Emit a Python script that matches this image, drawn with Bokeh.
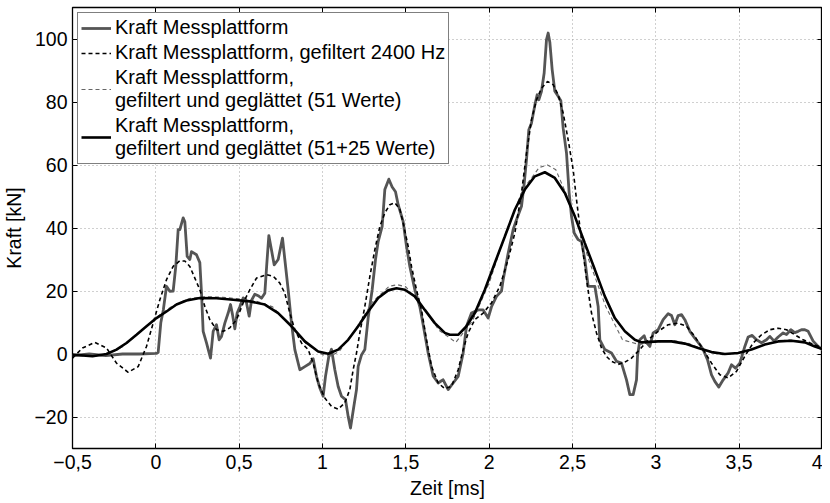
from bokeh.plotting import figure
from bokeh.models import (Range1d, LinearAxis, FixedTicker, CustomJSTickFormatter,
                          Legend, LegendItem)
from bokeh.embed import file_html
from bokeh.resources import INLINE

# ---------------- data ----------------
t_raw = [-0.5, -0.4, -0.3, -0.2, -0.1, 0.0, 0.014, 0.03, 0.045, 0.064, 0.084, 0.104, 0.12,
         0.134, 0.144, 0.164, 0.174, 0.188, 0.204, 0.214, 0.244, 0.264, 0.274, 0.284, 0.304,
         0.328, 0.344, 0.364, 0.38, 0.394, 0.414, 0.434, 0.448, 0.46, 0.474, 0.488, 0.504,
         0.524, 0.54, 0.56, 0.574, 0.594, 0.614, 0.634, 0.654, 0.665, 0.678, 0.694, 0.71,
         0.734, 0.76, 0.774, 0.794, 0.814, 0.834, 0.864, 0.894, 0.924, 0.944, 0.964, 0.984,
         1.004, 1.018, 1.038, 1.054, 1.074, 1.094, 1.114, 1.138, 1.154, 1.168, 1.184, 1.204,
         1.214, 1.234, 1.254, 1.274, 1.298, 1.318, 1.334, 1.358, 1.374, 1.398, 1.418, 1.438,
         1.454, 1.484, 1.504, 1.524, 1.554, 1.584, 1.604, 1.634, 1.664, 1.694, 1.714, 1.724,
         1.754, 1.784, 1.814, 1.844, 1.864, 1.894, 1.934, 1.964, 1.994, 2.014, 2.044, 2.074,
         2.084, 2.114, 2.144, 2.164, 2.194, 2.21, 2.224, 2.238, 2.254, 2.274, 2.288, 2.298,
         2.314, 2.33, 2.344, 2.354, 2.364, 2.378, 2.394, 2.414, 2.43, 2.444, 2.464, 2.48,
         2.494, 2.51, 2.534, 2.554, 2.574, 2.594, 2.634, 2.654, 2.664, 2.694, 2.734, 2.764,
         2.794, 2.824, 2.844, 2.864, 2.884, 2.89, 2.904, 2.93, 2.944, 2.964, 2.984, 3.014,
         3.044, 3.074, 3.094, 3.114, 3.134, 3.154, 3.174, 3.204, 3.234, 3.264, 3.284, 3.31,
         3.334, 3.354, 3.378, 3.404, 3.434, 3.454, 3.478, 3.504, 3.534, 3.554, 3.578, 3.604,
         3.634, 3.664, 3.684, 3.71, 3.734, 3.764, 3.784, 3.81, 3.834, 3.854, 3.874, 3.894,
         3.914, 3.944, 3.974, 4.0]
f_raw = [-0.5, 0.0, -0.5, 0.0, 0.0, 0.2, 0.5, 10.0, 14.0, 21.5, 19.9, 20.0, 28.0,
         39.5, 39.5, 43.2, 42.0, 31.0, 30.0, 32.5, 31.5, 29.0, 19.4, 7.2, 3.5,
         -1.3, 7.2, 9.3, 4.5, 5.6, 9.8, 13.0, 15.7, 12.5, 8.0, 13.0, 15.0,
         17.8, 17.3, 12.0, 17.0, 19.0, 18.5, 17.7, 19.3, 28.0, 37.6, 33.0, 28.3,
         30.0, 36.8, 30.0, 20.4, 9.8, 1.4, -5.0, -4.0, -3.0, -1.5, -7.1, -10.8,
         -13.4, -7.1, -0.7, 1.5, -5.0, -10.3, -13.4, -14.5, -19.8, -23.5, -18.0, -11.3,
         -3.9, -0.3, 1.4, 11.5, 20.4, 30.0, 35.7, 40.5, 52.2, 55.5, 53.0, 51.5,
         47.4, 42.0, 34.2, 27.8, 20.4, 15.0, 9.3, 0.3, -7.0, -9.2, -8.5, -8.2,
         -11.3, -9.2, -7.1, 0.3, 8.8, 13.0, 14.0, 14.0, 11.4, 15.0, 18.3, 20.0,
         23.6, 32.0, 39.5, 42.6, 46.9, 54.0, 61.7, 71.2, 73.3, 79.0, 82.3, 80.7,
         83.4, 89.2, 99.8, 101.9, 99.0, 90.3, 83.4, 81.8, 80.4, 71.7, 63.8, 51.1,
         43.7, 38.4, 36.3, 35.7, 30.0, 21.5, 21.5, 15.1, 4.5, 1.4, 0.3, -2.3,
         -2.9, -8.2, -12.9, -12.9, -8.2, -0.7, 4.5, 5.8, 3.6, 2.4, 6.7, 7.7,
         10.9, 12.8, 12.2, 9.3, 12.2, 12.5, 10.9, 7.2, 5.0, 3.0, 1.4, -1.8,
         -6.6, -8.7, -10.5, -8.2, -6.0, -3.4, -4.5, -2.9, 2.4, 5.4, 5.9, 4.5,
         3.6, 4.5, 5.6, 4.1, 5.4, 6.7, 6.2, 7.7, 6.8, 7.2, 7.7, 7.7,
         7.2, 4.1, 2.4, 1.4]

t_filt = [-0.5, -0.44, -0.366, -0.296, -0.236, -0.166, -0.106, -0.056, -0.016, 0.024,
          0.064, 0.104, 0.144, 0.174, 0.204, 0.234, 0.264, 0.294, 0.324, 0.364, 0.404,
          0.444, 0.484, 0.524, 0.564, 0.604, 0.664, 0.704, 0.744, 0.774, 0.804, 0.834,
          0.874, 0.914, 0.944, 0.974, 1.014, 1.054, 1.094, 1.134, 1.164, 1.184, 1.204,
          1.224, 1.254, 1.284, 1.314, 1.344, 1.374, 1.404, 1.434, 1.464, 1.484, 1.514,
          1.534, 1.564, 1.594, 1.624, 1.654, 1.694, 1.734, 1.774, 1.814, 1.844, 1.874,
          1.914, 1.964, 2.014, 2.064, 2.114, 2.154, 2.194, 2.224, 2.254, 2.284, 2.314,
          2.35, 2.384, 2.414, 2.444, 2.474, 2.504, 2.524, 2.544, 2.564, 2.59, 2.614,
          2.644, 2.674, 2.704, 2.734, 2.774, 2.814, 2.854, 2.904, 2.954, 3.014, 3.074,
          3.134, 3.184, 3.234, 3.284, 3.334, 3.384, 3.434, 3.484, 3.534, 3.584, 3.634,
          3.684, 3.734, 3.784, 3.834, 3.884, 3.934, 4.0]
f_filt = [-1.3, 1.9, 3.7, 1.9, -2.9, -5.8, -4.0, 2.4, 9.8, 17.2,
          23.6, 27.8, 29.6, 29.5, 27.8, 24.1, 20.4, 15.1, 10.9, 7.7, 7.2,
          8.3, 10.9, 16.2, 20.4, 24.1, 25.2, 24.7, 22.5, 19.3, 13.0, 7.7,
          3.5, 1.4, -2.9, -9.2, -14.0, -16.6, -17.5, -15.5, -11.3, -5.0, 0.3,
          6.7, 15.1, 24.6, 33.1, 40.5, 44.8, 47.4, 48.0, 46.0, 41.6, 34.2,
          27.8, 20.4, 14.0, 4.5, -3.9, -9.2, -11.0, -10.3, -5.0, 1.4, 6.7,
          10.9, 13.0, 16.2, 21.5, 30.0, 38.4, 51.1, 63.8, 74.4, 80.7, 84.4,
          86.5, 85.5, 82.3, 76.5, 68.0, 58.5, 49.0, 40.5, 32.0, 21.5, 13.0,
          6.7, 1.9, -0.8, -2.3, -3.3, -2.6, -1.3, 1.4, 4.5, 7.2, 9.3,
          9.8, 8.8, 5.6, 1.4, -2.9, -6.6, -7.6, -5.5, -0.7, 3.5, 6.1,
          7.7, 8.2, 7.7, 6.1, 4.5, 3.3, 1.9]

t_s51 = [-0.5, -0.4, -0.3, -0.2, -0.1, 0.0, 0.1, 0.2, 0.3, 0.4, 0.5, 0.6, 0.7, 0.8,
         0.9, 1.0, 1.05, 1.1, 1.2, 1.3, 1.4, 1.45, 1.5, 1.6, 1.7, 1.8, 1.9, 2.0, 2.1,
         2.2, 2.3, 2.35, 2.4, 2.5, 2.6, 2.7, 2.8, 2.9, 3.0, 3.1, 3.2, 3.3, 3.4, 3.5,
         3.6, 3.7, 3.8, 3.9, 4.0]
f_s51 = [-0.3, -0.8, -0.5, 2.3, 6.8, 11.5, 15.3, 17.6, 18.2, 18.0, 17.5, 16.8, 15.0, 9.6,
         3.4, -0.2, -0.6, 0.8, 8.0, 16.5, 21.5, 22.0, 21.3, 15.0, 7.5, 3.7, 10.5, 22.5, 38.5,
         52.0, 59.2, 60.0, 58.5, 46.0, 29.5, 15.0, 4.5, 3.0, 3.8, 4.3, 3.3, 1.0, -0.2, 0.2,
         2.0, 3.8, 4.5, 3.7, 1.3]

t_s76 = [-0.5, -0.38, -0.296, -0.236, -0.176, -0.116, -0.056, 0.004, 0.064, 0.124, 0.184,
         0.264, 0.364, 0.464, 0.564, 0.654, 0.734, 0.814, 0.894, 0.974, 1.034, 1.094,
         1.154, 1.214, 1.274, 1.334, 1.394, 1.444, 1.494, 1.554, 1.614, 1.674, 1.734,
         1.764, 1.814, 1.864, 1.914, 1.974, 2.034, 2.094, 2.154, 2.214, 2.274, 2.334,
         2.394, 2.454, 2.514, 2.574, 2.634, 2.694, 2.754, 2.814, 2.874, 2.914, 3.014,
         3.094, 3.174, 3.254, 3.334, 3.414, 3.494, 3.574, 3.654, 3.734, 3.814, 3.894,
         3.954, 4.0]
f_s76 = [-0.2, -0.7, 0.0, 1.4, 3.5, 6.1, 8.8, 11.4, 13.5, 15.7, 17.0,
         17.8, 17.7, 17.2, 16.7, 15.7, 13.0, 8.8, 4.0, 0.8, 0.1, 1.4,
         4.5, 8.8, 13.5, 17.8, 20.2, 20.9, 20.4, 18.3, 14.0, 9.8, 6.7,
         6.1, 6.1, 8.8, 13.0, 20.4, 28.9, 37.3, 45.8, 52.2, 56.4, 57.7,
         55.9, 51.1, 43.7, 35.2, 26.8, 18.3, 11.4, 7.2, 4.5, 3.7, 4.0,
         4.0, 3.3, 1.9, 0.6, 0.0, 0.3, 1.4, 3.0, 4.0, 4.2, 3.7,
         2.4, 1.6]

x_ticks = [-0.5, 0, 0.5, 1, 1.5, 2, 2.5, 3, 3.5, 4]
x_tick_labels = ["\u22120,5", "0", "0,5", "1", "1,5", "2", "2,5", "3", "3,5", "4"]
y_ticks = [-20, 0, 20, 40, 60, 80, 100]
y_tick_labels = ["\u221220", "0", "20", "40", "60", "80", "100"]

series_labels = [
    "Kraft Messplattform",
    "Kraft Messplattform, gefiltert 2400 Hz",
    "Kraft Messplattform,\ngefiltert und geglättet (51 Werte)",
    "Kraft Messplattform,\ngefiltert und geglättet (51+25 Werte)",
]

# ---------------- figure ----------------
FONT = "Liberation Sans"
FS = "19.5px"

p = figure(frame_width=750, frame_height=441, output_backend="svg", toolbar_location=None,
           x_range=Range1d(-0.5, 4), y_range=Range1d(-30, 110),
           min_border_left=63, min_border_right=0, min_border_top=7, min_border_bottom=0)
p.background_fill_color = "white"
p.border_fill_color = "white"
p.outline_line_color = "black"
p.outline_line_width = 1.3

def fmt(tvals, tlabs):
    return CustomJSTickFormatter(args=dict(tv=tvals, tl=tlabs), code="""
        for (let i = 0; i < tv.length; i++) {
            if (Math.abs(tv[i] - tick) < 1e-9) { return tl[i]; }
        }
        return '';
    """)

for ax, tvals, tlabs in ((p.xaxis[0], x_ticks, x_tick_labels),
                         (p.yaxis[0], y_ticks, y_tick_labels)):
    ax.ticker = FixedTicker(ticks=tvals)
    ax.formatter = fmt(tvals, tlabs)
    ax.major_tick_in = 5
    ax.major_tick_out = 0
    ax.minor_tick_line_color = None
    ax.axis_line_color = None
    ax.major_tick_line_color = "black"
    ax.major_label_text_font = FONT
    ax.major_label_text_font_size = FS
    ax.major_label_text_color = "black"
    ax.axis_label_text_font = FONT
    ax.axis_label_text_font_size = FS
    ax.axis_label_text_font_style = "normal"
    ax.axis_label_text_color = "black"

p.xaxis[0].axis_label = "Zeit [ms]"
p.xaxis[0].major_label_standoff = 6
p.xaxis[0].axis_label_standoff = 5
p.yaxis[0].axis_label = "Kraft [kN]"
p.yaxis[0].major_label_standoff = 5
p.yaxis[0].axis_label_standoff = 6

# tick marks on top and right side (box on), without labels
blank = CustomJSTickFormatter(code="return '';")
for loc, tvals in (("above", x_ticks), ("right", y_ticks)):
    ax = LinearAxis(ticker=FixedTicker(ticks=tvals), major_tick_in=5, major_tick_out=0,
                    minor_tick_line_color=None, axis_line_color=None,
                    formatter=blank, major_label_standoff=0,
                    major_label_text_font_size="1px")
    p.add_layout(ax, loc)

p.xgrid.ticker = FixedTicker(ticks=x_ticks)
p.ygrid.ticker = FixedTicker(ticks=y_ticks)
for g in (p.xgrid[0], p.ygrid[0]):
    g.grid_line_color = "#a0a0a0"
    g.grid_line_dash = "1 3"
    g.grid_line_width = 1

r_raw = p.line(t_raw, f_raw, line_color="#555555", line_width=2.8, line_join="round")
r_filt = p.line(t_filt, f_filt, line_color="black", line_width=1.6, line_dash="4 3")
r_s51 = p.line(t_s51, f_s51, line_color="#666666", line_width=1.1, line_dash="4 3")
r_s76 = p.line(t_s76, f_s76, line_color="black", line_width=2.6)

legend = Legend(items=[LegendItem(label=series_labels[0], renderers=[r_raw]),
                       LegendItem(label=series_labels[1], renderers=[r_filt]),
                       LegendItem(label=series_labels[2], renderers=[r_s51]),
                       LegendItem(label=series_labels[3], renderers=[r_s76])],
                location="top_left")
legend.margin = 5
legend.padding = 3
legend.spacing = 2
legend.glyph_width = 30
legend.label_standoff = 4
legend.label_text_font = FONT
legend.label_text_font_size = "20px"
legend.label_text_color = "black"
legend.label_text_line_height = 1.15
legend.border_line_color = "black"
legend.border_line_width = 1.3
legend.background_fill_alpha = 1.0
p.add_layout(legend, "center")

open("out.html", "w").write(file_html(p, INLINE))
